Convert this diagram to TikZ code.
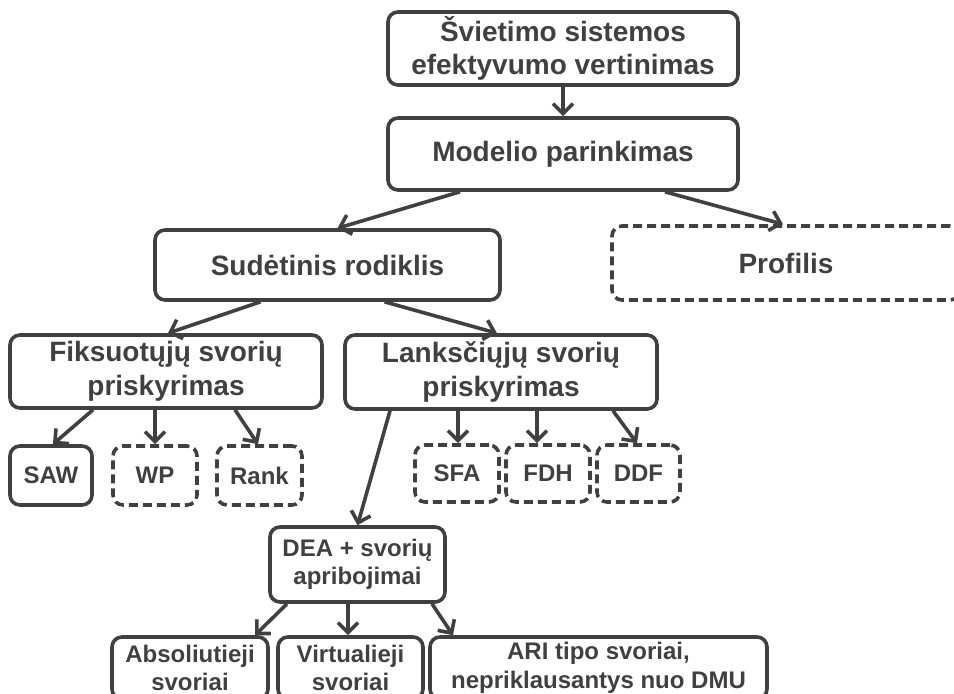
\documentclass[tikz,border=0pt]{standalone}
\usepackage{fontspec}
\setmainfont{Liberation Sans}
\usetikzlibrary{arrows.meta, calc}

\definecolor{ink}{RGB}{64,64,64}

\begin{document}
\begin{tikzpicture}[x=1pt, y=-1pt,
    box/.style={draw=ink, line width=3.6pt, rounded corners=10pt, text=ink,
        align=center, inner sep=0pt, font=\fontsize{28}{33.6}\selectfont\bfseries},
    smallbox/.style={box, font=\fontsize{24}{28.5}\selectfont\bfseries},
    opt/.style={dash pattern=on 9pt off 5pt},
    arr/.style={draw=ink, line width=3.6pt, -{Straight Barb[length=10pt, width=20pt, line width=3.6pt]}}]
    \clip (0,0) rectangle (954,694);

    % top levels
    \node[box, minimum width=350, minimum height=73] (vert) at (563,48.5) {Švietimo sistemos\\efektyvumo vertinimas};
    \node[box, minimum width=350, minimum height=72] (modelis) at (563,154) {Modelio parinkimas};
    \node[box, minimum width=345, minimum height=70] (sudet) at (327.5,265) {Sudėtinis rodiklis};
    \node[box, opt, minimum width=348, minimum height=74] (profilis) at (786,263) {Profilis};

    % weights
    \node[box, minimum width=312, minimum height=73] (fiks) at (166,371.5) {Fiksuotųjų svorių\\priskyrimas};
    \node[box, minimum width=312, minimum height=74] (lanks) at (501,372) {Lanksčiųjų svorių\\priskyrimas};

    \node[smallbox, minimum width=82, minimum height=59] (saw) at (51,475.5) {SAW};
    \node[smallbox, opt, minimum width=84, minimum height=59] (wp) at (155,475.5) {WP};
    \node[smallbox, opt, minimum width=85, minimum height=59] (rank) at (259.5,475.5) {Rank};
    \node[smallbox, opt, minimum width=84, minimum height=57] (sfa) at (457,473.5) {SFA};
    \node[smallbox, opt, minimum width=84, minimum height=57] (fdh) at (548,473.5) {FDH};
    \node[smallbox, opt, minimum width=83, minimum height=57] (ddf) at (638.5,473.5) {DDF};

    % DEA
    \node[smallbox, minimum width=175, minimum height=75] (dea) at (357.5,564.5) {DEA + svorių\\apribojimai};
    \node[smallbox, minimum width=156, minimum height=62] (abs) at (190,668) {Absoliutieji\\svoriai};
    \node[smallbox, minimum width=145, minimum height=62] (virt) at (350.5,668) {Virtualieji\\svoriai};
    \node[smallbox, minimum width=337, minimum height=62] (ari) at (598.5,668) {ARI tipo svoriai,\\nepriklausantys nuo DMU};

    % arrows
    \draw[arr] (vert.south) -- (modelis.north);
    \draw[arr] ([xshift=-103pt]modelis.south) -- ([xshift=10pt]sudet.north);
    \draw[arr] ([xshift=102pt]modelis.south) -- ([xshift=-3pt]profilis.north);
    \draw[arr] ([xshift=-67pt]sudet.south) -- ([xshift=2pt]fiks.north);
    \draw[arr] ([xshift=57pt]sudet.south) -- ([xshift=-4pt]lanks.north);

    \draw[arr] ([xshift=-73pt]fiks.south) -- ([xshift=2pt]saw.north);
    \draw[arr] ([xshift=-11pt]fiks.south) -- (wp.north);
    \draw[arr] ([xshift=69pt]fiks.south) -- ([xshift=-1.5pt]rank.north);

    \draw[arr] ([xshift=-111pt]lanks.south) -- (dea.north);
    \draw[arr] ([xshift=-43pt]lanks.south) -- ([xshift=1pt]sfa.north);
    \draw[arr] ([xshift=36pt]lanks.south) -- ([xshift=-11pt]fdh.north);
    \draw[arr] ([xshift=112pt]lanks.south) -- ([xshift=-1.5pt]ddf.north);

    \draw[arr] ([xshift=-70.5pt]dea.south) -- ([xshift=65pt]abs.north);
    \draw[arr] ([xshift=-9.5pt]dea.south) -- ([xshift=-2.5pt]virt.north);
    \draw[arr] ([xshift=74.5pt]dea.south) -- ([xshift=-145.5pt]ari.north);
\end{tikzpicture}
\end{document}
